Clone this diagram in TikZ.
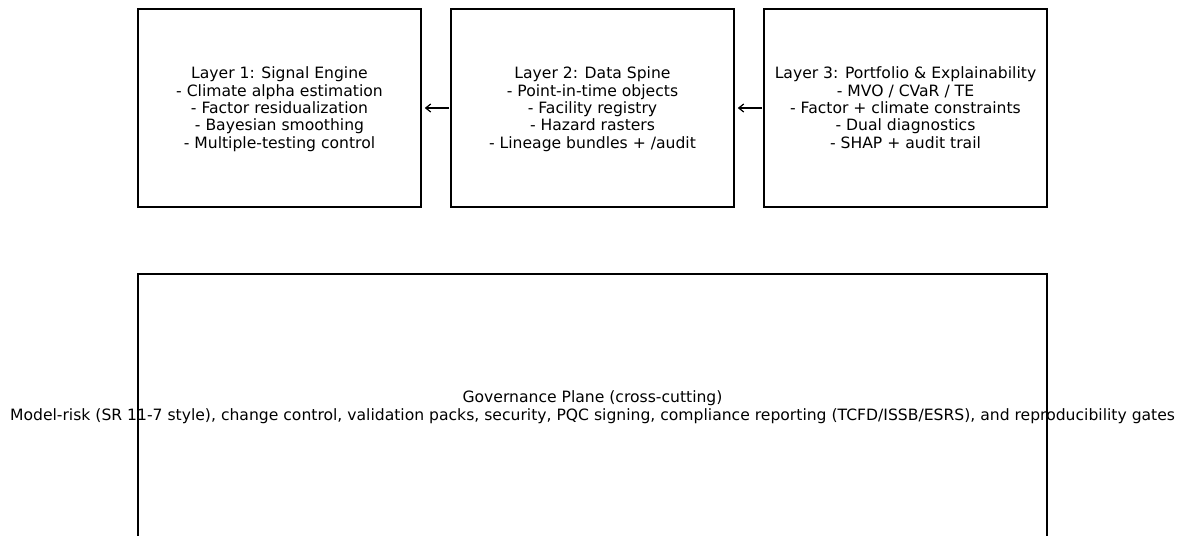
\documentclass[tikz,border=0pt]{standalone}
\usepackage{fontspec}
\setmainfont{DejaVu Sans}
\usetikzlibrary{arrows.meta}
\tikzset{
  layerbox/.style={draw=black, line width=1.6pt, minimum width=283pt, minimum height=198pt, inner sep=0pt},
  ltext/.style={align=center, inner sep=0pt, yshift=-2pt, font=\fontsize{15.6pt}{17.3pt}\selectfont},
  govbox/.style={draw=black, line width=1.6pt, minimum width=909pt, minimum height=264pt, inner sep=0pt},
  govtext/.style={align=center, inner sep=0pt, font=\fontsize{15.6pt}{17.3pt}\selectfont},
  flow/.style={-{Straight Barb[length=5pt,width=8pt,line width=1.2pt]}, line width=1.3pt, shorten >=3pt, shorten <=1pt}
}
\begin{document}
\begin{tikzpicture}[x=1pt,y=-1pt]
\useasboundingbox (0,0) rectangle (1185,535);
\node[layerbox, label={[ltext]center:{\strut Layer 1: Signal Engine\\- Climate alpha estimation\\- Factor residualization\\- Bayesian smoothing\\- Multiple-testing control\strut}}] (l1) at (279.5,108) {};
\node[layerbox, label={[ltext]center:{\strut Layer 2: Data Spine\\- Point-in-time objects\\- Facility registry\\- Hazard rasters\\- Lineage bundles + /audit\strut}}] (l2) at (592.5,108) {};
\node[layerbox, label={[ltext]center:{\strut Layer 3: Portfolio \& Explainability\\- MVO / CVaR / TE\\- Factor + climate constraints\\- Dual diagnostics\\- SHAP + audit trail\strut}}] (l3) at (905.5,108) {};
\node[govtext] (gt) at (592.5,408) {\strut Governance Plane (cross-cutting)\\Model-risk (SR 11-7 style), change control, validation packs, security, PQC signing, compliance reporting (TCFD/ISSB/ESRS), and reproducibility gates\strut};
\node[govbox] (gov) at (592.5,406) {};
\draw[flow] (l2.west) -- (l1.east);
\draw[flow] (l3.west) -- (l2.east);
\end{tikzpicture}
\end{document}
